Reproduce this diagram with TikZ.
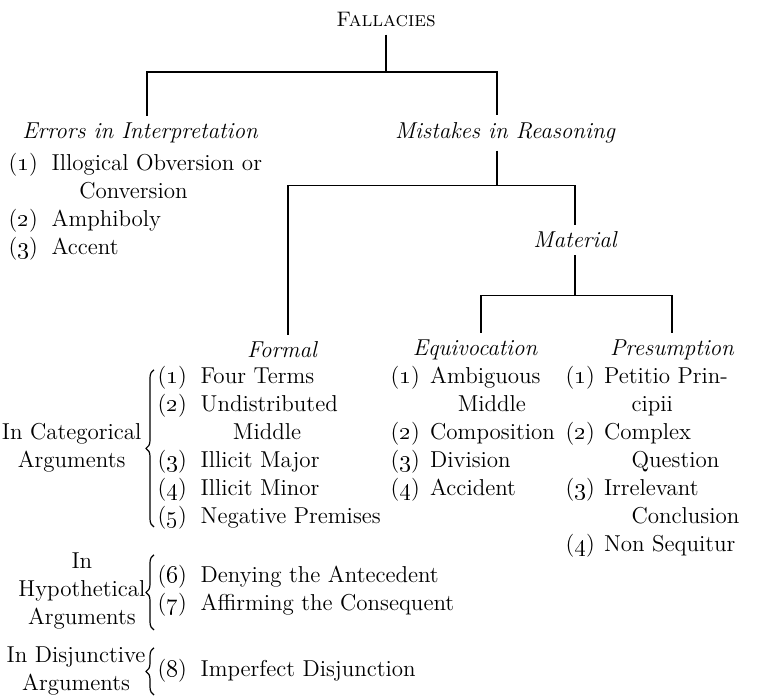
\documentclass[tikz,border=0pt]{standalone}
\usetikzlibrary{calc}
\usetikzlibrary{positioning}
\usetikzlibrary{decorations.pathreplacing}

\tikzset{
  every node/.style={font=\fontsize{11.5}{14}\selectfont},
  head/.style={font=\fontsize{11.5}{14}\selectfont\itshape},
  items/.style={anchor=base west, inner sep=0pt},
  side/.style={anchor=base east, inner sep=0pt},
  brc/.style={decorate, decoration={brace, amplitude=4pt}},
}
\newcommand{\nr}[1]{(\oldstylenums{#1})}
\newcommand{\cont}{\hspace{1.2em}}

\begin{document}
\begin{tikzpicture}[x=0.5pt, y=-0.5pt, line width=0.6pt]
  \useasboundingbox (0,0) rectangle (765,699);

  % the tree
  \node (fall) at (386,20) {\fontsize{10.5}{12}\selectfont\textsc{Fallacies}};
  \node [head] (err) at (140,133) {Errors in Interpretation};
  \node [head] (mis) at (505,133) {Mistakes in Reasoning};
  \node [head] (mat) at (575,240) {Material};
  \node [head] (form) at (282,350) {Formal};
  \node [head] (equ) at (475,350) {Equivocation};
  \node [head] (pres) at (672,350) {Presumption};

  \coordinate (bar1) at (386,72);
  \draw (fall.south) -- (bar1);
  \draw ([xshift=3.5pt]err.north) |- (bar1) -| ([xshift=-4pt]mis.north);
  \draw ([xshift=-4pt]mis.south) -- ++(0,35) coordinate (bar2);
  \draw ([xshift=3pt]form.north) |- (bar2) -| (mat.north);
  \draw (mat.south) -- ++(0,40) coordinate (bar3);
  \draw ([xshift=3pt]equ.north) |- (bar3) -| (pres.north);

  % the lists
  \node [items] (errlist) at (8,171) {\begin{tabular}[t]{@{}l@{\hspace{0.6em}}l@{}}
    \nr{1} & Illogical Obversion or\\
           & \cont Conversion\\
    \nr{2} & Amphiboly\\
    \nr{3} & Accent
  \end{tabular}};
  \node [items] (catlist) at (157,384) {\begin{tabular}[t]{@{}l@{\hspace{0.6em}}l@{}}
    \nr{1} & Four Terms\\
    \nr{2} & Undistributed\\
           & \hspace{1.4em}Middle\\
    \nr{3} & Illicit Major\\
    \nr{4} & Illicit Minor\\
    \nr{5} & Negative Premises
  \end{tabular}};
  \node [items] (equlist) at (390,384) {\begin{tabular}[t]{@{}l@{\hspace{0.45em}}l@{}}
    \nr{1} & Ambiguous\\
           & \cont Middle\\
    \nr{2} & Composition\\
    \nr{3} & Division\\
    \nr{4} & Accident
  \end{tabular}};
  \node [items] (preslist) at (565,384) {\begin{tabular}[t]{@{}l@{\hspace{0.4em}}l@{}}
    \nr{1} & Petitio Prin-\\
           & \cont cipii\\
    \nr{2} & Complex\\
           & \cont Question\\
    \nr{3} & Irrelevant\\
           & \cont Conclusion\\
    \nr{4} & Non Sequitur
  \end{tabular}};
  \node [items] (hyplist) at (157,582) {\begin{tabular}[t]{@{}l@{\hspace{0.6em}}l@{}}
    \nr{6} & Denying the Antecedent\\
    \nr{7} & Affirming the Consequent
  \end{tabular}};
  \node [items] (dislist) at (157,676) {\begin{tabular}[t]{@{}l@{\hspace{0.6em}}l@{}}
    \nr{8} & Imperfect Disjunction
  \end{tabular}};

  % kinds of argument, with braces
  \node [side] (catlab) at (142,440) {\begin{tabular}[t]{@{}c@{}}In Categorical\\Arguments\end{tabular}};
  \node [side] (hyplab) at (146,568) {\begin{tabular}[t]{@{}c@{}}In\\Hypothetical\\Arguments\end{tabular}};
  \node [side] (dislab) at (146,662) {\begin{tabular}[t]{@{}c@{}}In Disjunctive\\Arguments\end{tabular}};

  \draw [brc] ([xshift=-1.5pt,yshift=3pt]catlist.south west) -- ([xshift=-1.5pt,yshift=-3pt]catlist.north west);
  \draw [brc] ([xshift=-1.5pt,yshift=-5.5pt]hyplist.south west) -- ([xshift=-1.5pt,yshift=3.5pt]hyplist.north west);
  \draw [brc] ([xshift=-1.5pt,yshift=-5pt]dislist.south west) -- ([xshift=-1.5pt,yshift=4pt]dislist.north west);
\end{tikzpicture}
\end{document}
